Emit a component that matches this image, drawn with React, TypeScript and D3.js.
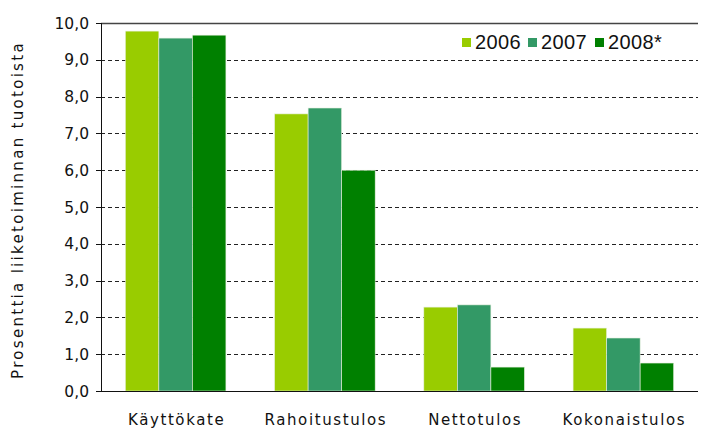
import React from "react";
import * as d3 from "d3";

const categories = ["Käyttökate", "Rahoitustulos", "Nettotulos", "Kokonaistulos"];
const seriesNames = ["2006", "2007", "2008*"];
const values2006 = [9.78, 7.53, 2.28, 1.71];
const values2007 = [9.59, 7.69, 2.34, 1.44];
const values2008 = [9.67, 6.0, 0.65, 0.76];
const colors = ["#99CC00", "#339966", "#008000"];
const yTicks = [0, 1, 2, 3, 4, 5, 6, 7, 8, 9, 10];
const yTitle = "Prosenttia liiketoiminnan tuotoista";

export default function App() {
  const W = 701, H = 430;
  const left = 101, right = 698, top = 23, bottom = 391;
  const series = [values2006, values2007, values2008];
  const x0 = d3.scaleBand().domain(categories).range([left, right]).paddingInner(0.326).paddingOuter(0.163);
  const x1 = d3.scaleBand().domain(seriesNames).range([0, x0.bandwidth()]);
  const y = d3.scaleLinear().domain([0, 10]).range([bottom, top]);
  const font = "'DejaVu Sans', Tahoma, sans-serif";
  const legendFont = "'Liberation Sans', Arial, sans-serif";
  const fmt = (v: number) => v.toFixed(1).replace(".", ",");
  const legendX = [462, 528, 595];
  return (
    <svg width={W} height={H} style={{ position: "absolute", left: 0, top: 0, background: "#fff" }} fontFamily={font}>
      {yTicks.filter(t => t > 0 && t < 10).map(t => (
        <line key={"g" + t} x1={left} x2={right} y1={Math.round(y(t)) + 0.5} y2={Math.round(y(t)) + 0.5}
          stroke="#222" strokeWidth={1} strokeDasharray="4,3" />
      ))}
      <line x1={left} x2={right} y1={top + 0.5} y2={top + 0.5} stroke="#444" strokeWidth={1.5} />
      {categories.map((c, i) => (
        <g key={c}>
          {series.map((s, j) => (
            <rect key={j} x={(x0(c) as number) + (x1(seriesNames[j]) as number)} y={y(s[i])}
              width={x1.bandwidth()} height={bottom - y(s[i])} fill={colors[j]}
              stroke="#e8f0e0" strokeWidth={0.6} />
          ))}
          <text x={(x0(c) as number) + x0.bandwidth() / 2 + 1} y={425} textAnchor="middle" fontSize={15}
            letterSpacing={1.6} fill="#111">{c}</text>
        </g>
      ))}
      <line x1={left + 0.5} x2={left + 0.5} y1={top} y2={bottom} stroke="#111" />
      <line x1={left - 5} x2={right} y1={bottom + 0.5} y2={bottom + 0.5} stroke="#111" />
      {yTicks.map(t => (
        <g key={"t" + t}>
          <line x1={left - 5} x2={left} y1={Math.round(y(t)) + 0.5} y2={Math.round(y(t)) + 0.5} stroke="#111" />
          <text x={89} y={y(t) + 5.5} textAnchor="end" fontSize={15.5} fill="#111">{fmt(t)}</text>
        </g>
      ))}
      <text transform={`translate(23,${(top + bottom) / 2 + 3}) rotate(-90)`} textAnchor="middle" fontSize={15}
        letterSpacing={2.3} fill="#111">{yTitle}</text>
      {seriesNames.map((n, j) => (
        <g key={n}>
          <rect x={legendX[j]} y={38} width={9} height={9} fill={colors[j]} />
          <text x={legendX[j] + 13} y={49} fontSize={20} letterSpacing={0.4} fontFamily={legendFont} fill="#111">{n}</text>
        </g>
      ))}
    </svg>
  );
}
